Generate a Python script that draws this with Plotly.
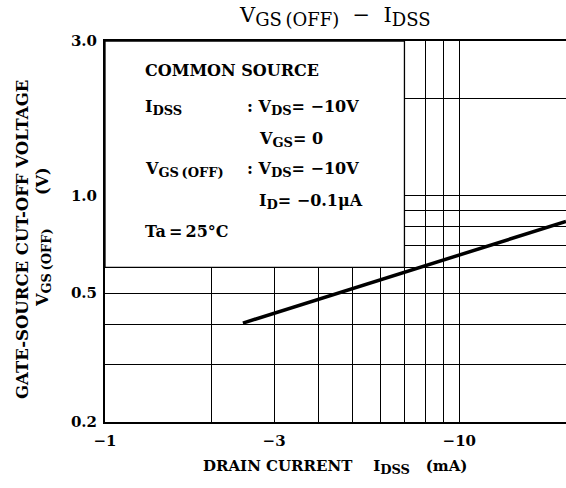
import plotly.graph_objects as go

# ---- data (magnitudes of negative drain current, mA) ----
idss_ma = [2.45, 10, 20]
vgs_off_v = [0.404, 0.655, 0.832]

x_tick_vals = [1, 3, 10]
x_tick_text = ["\u22121", "\u22123", "\u221210"]
x_minor_vals = [2, 4, 5, 6, 7, 8, 9]
y_tick_vals = [0.2, 0.5, 1, 3]
y_tick_text = ["0.2", "0.5", "1.0", "3.0"]
y_minor_vals = [0.3, 0.4, 0.6, 0.7, 0.8, 0.9, 2]

W, H = 566, 488
L, R, T, B = 105, 0, 41, 66
FONT = "DejaVu Serif"

fig = go.Figure()
fig.add_trace(go.Scatter(x=idss_ma, y=vgs_off_v, mode="lines",
                         line=dict(color="black", width=3.5), showlegend=False,
                         hoverinfo="skip"))

# blank condition box covering the grid at top-left
fig.add_shape(type="rect", xref="x", yref="y", x0=1, x1=7, y0=0.6, y1=3,
              fillcolor="white", line=dict(color="black", width=1.3), layer="between")

pw = W - L - R
ph = H - T - B
def px(xp):
    return (xp - L) / pw
def py(yp):
    return (H - B - yp) / ph

def sub(t, size):
    return "<sub><span style='font-size:%spx'>%s</span></sub>" % (size, t)

def ann(text, x, y, size=14, xanchor="left", angle=0, yanchor="middle", bold=True):
    fig.add_annotation(text=text, xref="paper", yref="paper", x=px(x), y=py(y),
                       xanchor=xanchor, yanchor=yanchor, showarrow=False, textangle=angle,
                       font=dict(family=FONT, size=size, color="black",
                                 weight="bold" if bold else "normal"))

bs = 16
ss = 13
ann("COMMON SOURCE", 143, 71, bs)
ann("I" + sub("DSS", ss), 143, 107, bs)
ann(": V" + sub("DS", ss) + "= \u221210V", 245, 107, bs)
ann("V" + sub("GS", ss) + "= 0", 257, 139, bs)
ann("V" + sub("GS\u2009(OFF)", ss), 143, 169, bs)
ann(": V" + sub("DS", ss) + "= \u221210V", 245, 169, bs)
ann("I" + sub("D", ss) + "= \u22120.1\u03bcA", 257, 202, bs)
ann("Ta\u2009=\u200925\u00b0C", 143, 231, bs)

# y-axis title (two lines)
ann("GATE-SOURCE CUT-OFF VOLTAGE", 22, 240, 16.5, xanchor="center", angle=-90)
ann("V" + sub("GS\u2009(OFF)", 13) + "      (V)", 43, 237, 16, xanchor="center", angle=-90)
# x-axis title
ann("DRAIN CURRENT    I" + sub("DSS", 13) + "   (mA)", 335, 467, 15, xanchor="center")
# chart title
ann("V" + sub("GS\u2009(OFF)", 18) + "  \u2212  I" + sub("DSS", 18), 335, 17, 21,
    xanchor="center", bold=False)

tickfont = dict(family=FONT, size=15, color="black", weight="bold")
fig.update_layout(
    width=W, height=H,
    margin=dict(l=L, r=R, t=T, b=B),
    paper_bgcolor="white", plot_bgcolor="white",
    showlegend=False,
    xaxis=dict(type="log", range=[0, 1.30103],
               tickvals=x_tick_vals, ticktext=x_tick_text, ticks="",
               showgrid=True, gridcolor="black", gridwidth=1.2,
               minor=dict(tickvals=x_minor_vals, showgrid=True, gridcolor="black", gridwidth=1.2, ticks=""),
               showline=True, linecolor="black", linewidth=2, mirror=True,
               zeroline=False, tickfont=tickfont, ticklabelstandoff=4),
    yaxis=dict(type="log", range=[-0.69897, 0.47712],
               tickvals=y_tick_vals, ticktext=y_tick_text, ticks="",
               showgrid=True, gridcolor="black", gridwidth=1.2,
               minor=dict(tickvals=y_minor_vals, showgrid=True, gridcolor="black", gridwidth=1.2, ticks=""),
               showline=True, linecolor="black", linewidth=2, mirror=False,
               zeroline=False, tickfont=tickfont, ticklabelstandoff=3),
)

fig.write_html("out.html", config={"displayModeBar": False},
               post_script="document.body.style.margin='0';")
